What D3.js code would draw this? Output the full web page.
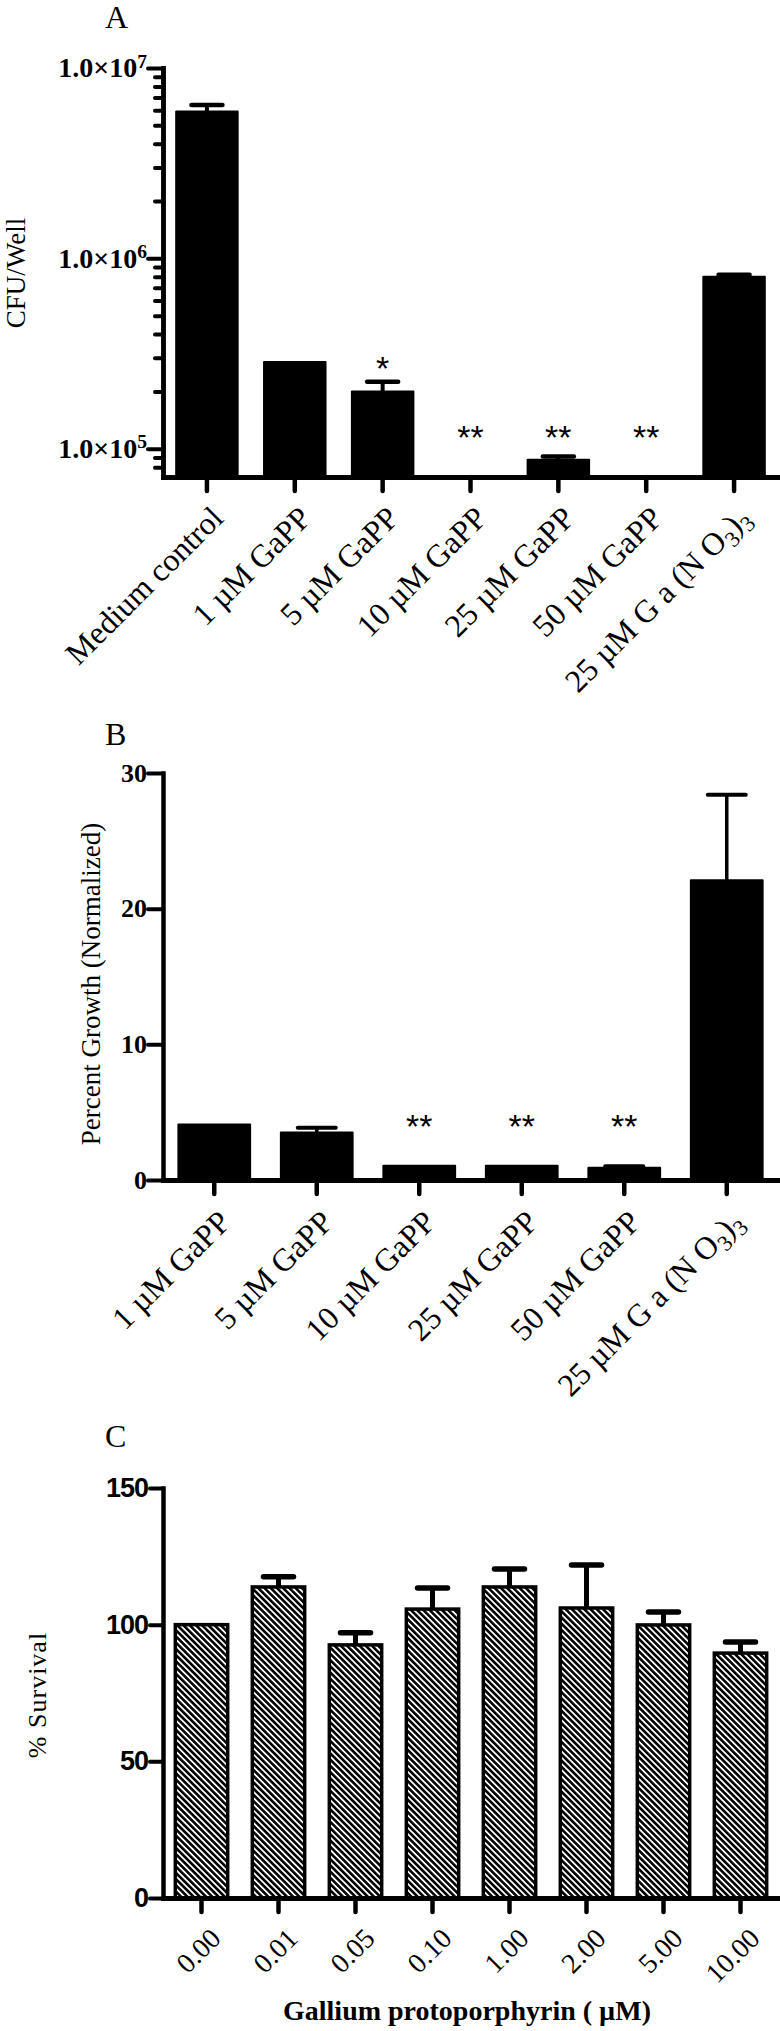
<!DOCTYPE html>
<html>
<head>
<meta charset="utf-8">
<script src="https://cdn.jsdelivr.net/npm/d3@7"></script>
<style>
  body { margin: 0; background: #fff; }
  svg { display: block; }
</style>
</head>
<body>
<svg id="chart"></svg>
<script>
//------------------------------------------------------------
// Data
const catsA = ["Medium control", "1 µM GaPP", "5 µM GaPP", "10 µM GaPP", "25 µM GaPP", "50 µM GaPP", "25 µM Ga(NO3)3"];
const cfuMean = [5.9e6, 2.85e5, 2.0e5, 0, 8.75e4, 0, 8.0e5];
const cfuErr = [0.5e6, 0, 0.25e5, 0, 0.35e4, 0, 0.2e5];
const sigA = ["", "", "*", "**", "**", "**", ""];
const cfuTicks = [1e5, 1e6, 1e7];

const catsB = ["1 µM GaPP", "5 µM GaPP", "10 µM GaPP", "25 µM GaPP", "50 µM GaPP", "25 µM Ga(NO3)3"];
const growthMean = [4.1, 3.5, 1.05, 1.05, 0.9, 22.1];
const growthErr = [0, 0.35, 0, 0, 0.12, 6.3];
const sigB = ["", "", "**", "**", "**", ""];
const growthTicks = [0, 10, 20, 30];

const doses = ["0.00", "0.01", "0.05", "0.10", "1.00", "2.00", "5.00", "10.00"];
const survivalMean = [100, 113.8, 92.6, 105.7, 113.8, 106.1, 99.9, 89.6];
const survivalErr = [0, 3.7, 4.4, 7.7, 6.6, 15.7, 4.7, 4.1];
const survivalTicks = [0, 50, 100, 150];

//------------------------------------------------------------
// Setup
const serif = "'Liberation Serif', 'Times New Roman', serif";
const sans = "'Liberation Sans', Arial, sans-serif";

const svg = d3.select("#chart")
  .attr("width", 780)
  .attr("height", 2031);

const defs = svg.append("defs");
const hatch = defs.append("pattern")
  .attr("id", "hatch")
  .attr("patternUnits", "userSpaceOnUse")
  .attr("width", 4.4)
  .attr("height", 4.4)
  .attr("patternTransform", "rotate(-45)");
hatch.append("rect").attr("width", 4.4).attr("height", 4.4).attr("fill", "#fff");
hatch.append("rect").attr("width", 2.6).attr("height", 4.4).attr("fill", "#000");

function styleAxis(sel, w) {
  sel.select(".domain").attr("stroke-width", w).attr("stroke-linecap", "square");
  sel.selectAll(".tick line").attr("stroke-width", w - 0.5).attr("stroke-linecap", "round");
}

function panelLetter(txt, y) {
  svg.append("text")
    .attr("x", 105)
    .attr("y", y)
    .style("font-family", serif)
    .style("font-size", "32px")
    .text(txt);
}

function yTitle(txt, x, y, size, spacing) {
  svg.append("text")
    .attr("transform", `translate(${x},${y}) rotate(-90)`)
    .attr("text-anchor", "middle")
    .style("font-family", serif)
    .style("font-size", size + "px")
    .style("letter-spacing", spacing + "px")
    .text(txt);
}

function xLabels(g, x, cats, axisY, size, dx, dy) {
  g.selectAll("text.xlab")
    .data(cats)
    .join("text")
    .attr("class", "xlab")
    .attr("transform", d => `translate(${x(d) + x.bandwidth() / 2 + dx},${axisY + dy}) rotate(-45)`)
    .attr("text-anchor", "end")
    .style("font-family", serif)
    .style("font-size", size + "px")
    .each(function(d) {
      const t = d3.select(this);
      const m = d.match(/^(.*)Ga\(NO3\)3$/);
      if (m) {
        t.append("tspan").text(m[1] + " G a (N O");
        t.append("tspan").attr("dy", 7).style("font-size", "0.7em").text("3");
        t.append("tspan").attr("dy", -7).text(")");
        t.append("tspan").attr("dy", 7).style("font-size", "0.7em").text("3");
      } else {
        t.text(d);
      }
    });
}

function errorBars(g, rows, x, y, capW, w) {
  const withErr = rows.filter(d => d.err > 0);
  g.selectAll("line.err")
    .data(withErr)
    .join("line")
    .attr("class", "err")
    .attr("x1", d => x(d.cat) + x.bandwidth() / 2)
    .attr("x2", d => x(d.cat) + x.bandwidth() / 2)
    .attr("y1", d => y(d.mean))
    .attr("y2", d => y(d.mean + d.err))
    .attr("stroke", "#000")
    .attr("stroke-width", w);
  g.selectAll("line.cap")
    .data(withErr)
    .join("line")
    .attr("class", "cap")
    .attr("x1", d => x(d.cat) + x.bandwidth() / 2 - capW / 2)
    .attr("x2", d => x(d.cat) + x.bandwidth() / 2 + capW / 2)
    .attr("y1", d => y(d.mean + d.err))
    .attr("y2", d => y(d.mean + d.err))
    .attr("stroke", "#000")
    .attr("stroke-width", w + 0.5)
    .attr("stroke-linecap", "round");
}

function stars(g, rows, x, yPos) {
  g.selectAll("text.sig")
    .data(rows.filter(d => d.sig))
    .join("text")
    .attr("class", "sig")
    .attr("x", d => x(d.cat) + x.bandwidth() / 2)
    .attr("y", d => yPos(d) + 19)
    .attr("text-anchor", "middle")
    .style("font-family", sans)
    .style("font-size", "34px")
    .text(d => d.sig);
}

//------------------------------------------------------------
// Panel A: CFU/Well (log)
const rowsA = catsA.map((c, i) => ({ cat: c, mean: cfuMean[i], err: cfuErr[i], sig: sigA[i] }));
const gA = svg.append("g");
const xA = d3.scaleBand().domain(catsA).range([163, 778]).paddingInner(0.3).paddingOuter(0.15);
const yA = d3.scaleLog().domain([7.1e4, 1e7]).range([477, 68]);
const baseA = yA.range()[0];

gA.selectAll("rect.bar")
  .data(rowsA)
  .join("rect")
  .attr("class", "bar")
  .attr("x", d => xA(d.cat))
  .attr("width", xA.bandwidth())
  .attr("y", d => d.mean > yA.domain()[0] ? yA(d.mean) : baseA)
  .attr("height", d => d.mean > yA.domain()[0] ? baseA - yA(d.mean) : 0)
  .attr("fill", "#000")
  .attr("stroke", "#000")
  .attr("stroke-width", 2)
  .attr("stroke-linejoin", "round");

errorBars(gA, rowsA, xA, yA, 31, 4);
stars(gA, rowsA, xA, d => Math.min(yA(d.mean + d.err || yA.domain()[0]) - 21, baseA - 47));

const minorA = yA.ticks().filter(v => !cfuTicks.includes(v));
gA.append("g")
  .attr("transform", "translate(163,0)")
  .call(d3.axisLeft(yA).tickValues(minorA).tickSize(8).tickSizeOuter(0).tickFormat(""))
  .call(styleAxis, 4.5);

const yAxA = gA.append("g")
  .attr("transform", "translate(163,0)")
  .call(d3.axisLeft(yA).tickValues(cfuTicks).tickSize(15).tickSizeOuter(0).tickPadding(1).tickFormat(""))
  .call(styleAxis, 4.5);
yAxA.selectAll(".tick text")
  .style("font-family", serif)
  .style("font-size", "28px")
  .style("font-weight", "bold")
  .each(function(d) {
    const t = d3.select(this);
    t.append("tspan").text("1.0×10");
    t.append("tspan").attr("dy", "-0.5em").style("font-size", "0.7em").text(Math.round(Math.log10(d)));
  });

gA.append("g")
  .attr("transform", `translate(0,${baseA})`)
  .call(d3.axisBottom(xA).tickSize(14).tickSizeOuter(0).tickFormat(""))
  .call(styleAxis, 5);

xLabels(gA, xA, catsA, baseA, 32, 18, 43);
panelLetter("A", 28);
yTitle("CFU/Well", 25, 273, 27, 0);

//------------------------------------------------------------
// Panel B: Percent growth
const rowsB = catsB.map((c, i) => ({ cat: c, mean: growthMean[i], err: growthErr[i], sig: sigB[i] }));
const gB = svg.append("g");
const xB = d3.scaleBand().domain(catsB).range([163, 778]).paddingInner(0.3).paddingOuter(0.15);
const yB = d3.scaleLinear().domain([0, 30]).range([1180, 773]);

gB.selectAll("rect.bar")
  .data(rowsB)
  .join("rect")
  .attr("class", "bar")
  .attr("x", d => xB(d.cat))
  .attr("width", xB.bandwidth())
  .attr("y", d => yB(d.mean))
  .attr("height", d => yB(0) - yB(d.mean))
  .attr("fill", "#000")
  .attr("stroke", "#000")
  .attr("stroke-width", 2)
  .attr("stroke-linejoin", "round");

errorBars(gB, rowsB, xB, yB, 38, 3.5);
stars(gB, rowsB, xB, d => yB(d.mean + d.err) - 47);

const yAxB = gB.append("g")
  .attr("transform", "translate(163,0)")
  .call(d3.axisLeft(yB).tickValues(growthTicks).tickSize(15).tickSizeOuter(0).tickPadding(1))
  .call(styleAxis, 4.5);
yAxB.selectAll(".tick text")
  .style("font-family", serif)
  .style("font-size", "26px")
  .style("font-weight", "bold");

gB.append("g")
  .attr("transform", `translate(0,${yB(0)})`)
  .call(d3.axisBottom(xB).tickSize(14).tickSizeOuter(0).tickFormat(""))
  .call(styleAxis, 5);

xLabels(gB, xB, catsB, yB(0), 32, 18, 44);
panelLetter("B", 745);
yTitle("Percent Growth (Normalized)", 100, 984, 27, 0);

//------------------------------------------------------------
// Panel C: % survival vs GaPP dose
const rowsC = doses.map((c, i) => ({ cat: c, mean: survivalMean[i], err: survivalErr[i] }));
const gC = svg.append("g");
const xC = d3.scaleBand().domain(doses).range([163, 779]).paddingInner(0.32).paddingOuter(0.16);
const yC = d3.scaleLinear().domain([0, 150]).range([1898, 1488]);

errorBars(gC, rowsC, xC, yC, 30, 5);

gC.selectAll("rect.bar")
  .data(rowsC)
  .join("rect")
  .attr("class", "bar")
  .attr("x", d => xC(d.cat))
  .attr("width", xC.bandwidth())
  .attr("y", d => yC(d.mean))
  .attr("height", d => yC(0) - yC(d.mean))
  .attr("fill", "url(#hatch)")
  .attr("stroke", "#000")
  .attr("stroke-width", 3.5);

const yAxC = gC.append("g")
  .attr("transform", "translate(163,0)")
  .call(d3.axisLeft(yC).tickValues(survivalTicks).tickSize(13).tickSizeOuter(0).tickPadding(2))
  .call(styleAxis, 4.5);
yAxC.selectAll(".tick text")
  .style("font-family", sans)
  .style("font-size", "27px")
  .style("font-weight", "bold")
  .style("letter-spacing", "-1px");

gC.append("g")
  .attr("transform", `translate(0,${yC(0)})`)
  .call(d3.axisBottom(xC).tickSize(14).tickSizeOuter(0).tickFormat(""))
  .call(styleAxis, 5);

xLabels(gC, xC, doses, yC(0), 28, 21, 42);
panelLetter("C", 1447);
yTitle("% Survival", 46, 1695, 26, 1);

svg.append("text")
  .attr("x", 467)
  .attr("y", 2020)
  .attr("text-anchor", "middle")
  .style("font-family", serif)
  .style("font-size", "28px")
  .style("font-weight", "bold")
  .text("Gallium protoporphyrin ( µM)");
</script>
</body>
</html>
